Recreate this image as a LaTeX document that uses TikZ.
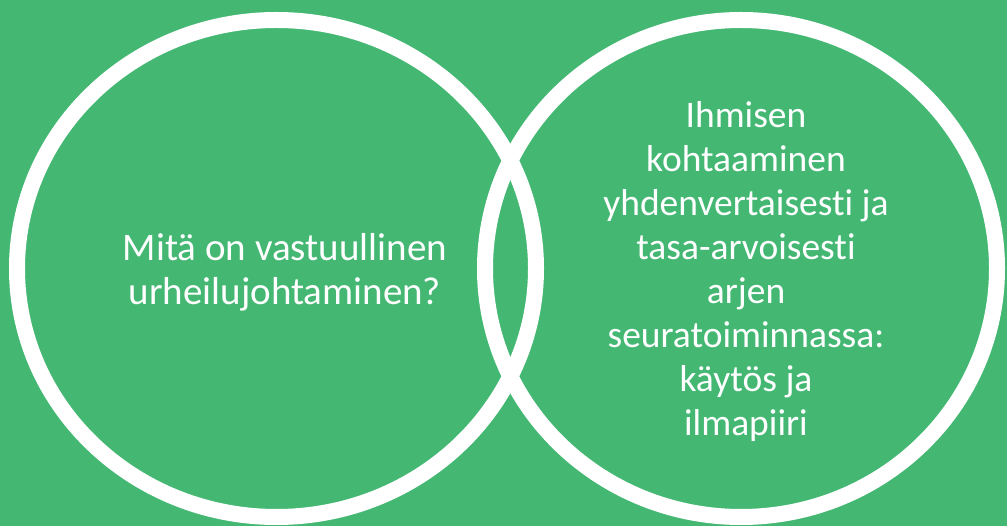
\documentclass[tikz,border=0pt]{standalone}
\usepackage{fontspec}
\setmainfont{Carlito}[Ligatures=NoCommon]
\usetikzlibrary{shapes.geometric}
\definecolor{bggreen}{RGB}{68,184,115}
\tikzset{
    ring/.style={ellipse,draw=white,line width=16pt,inner sep=0pt},
    ringtext/.style={text=white,align=center,font=\fontsize{39}{44}\selectfont}
}
\begin{document}
\begin{tikzpicture}[x=1pt,y=-1pt]
        \fill[bggreen](0,0)rectangle(1007,526);
        \useasboundingbox(0,0)rectangle(1007,526);
        % the two rings
        \node[ring,minimum width=519pt,minimum height=497pt](leftring)at(276.5,268.5){};
        \node[ring,minimum width=512pt,minimum height=497pt](rightring)at(741,268.5){};
        % texts
        \node[ringtext](lefttext)at(285,272){Mitä on vastuullinen\\urheilujohtaminen?};
        \node[ringtext,font=\fontsize{37.5}{44}\selectfont](righttext)at(746,272){Ihmisen\\kohtaaminen\\yhdenvertaisesti ja\\tasa-arvoisesti\\arjen\\seuratoiminnassa:\\käytös ja\\ilmapiiri};
    \end{tikzpicture}
\end{document}
